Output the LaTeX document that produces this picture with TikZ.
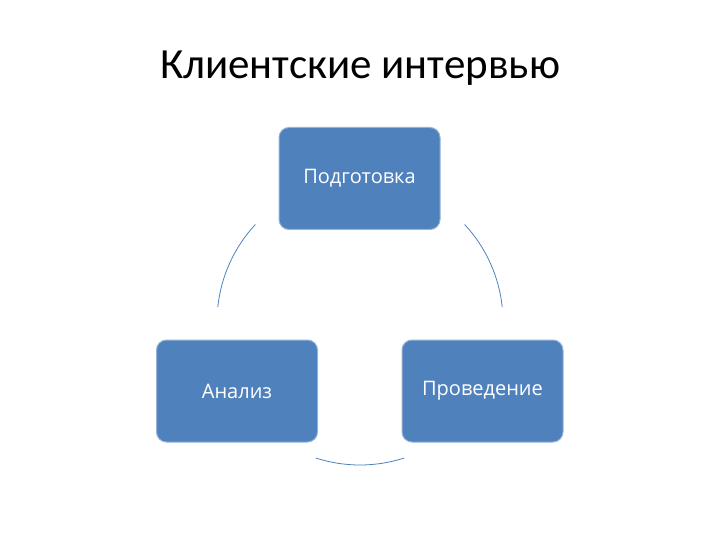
\documentclass[tikz,border=0pt]{standalone}
\usepackage{fontspec}
\setmainfont{Carlito}
\newfontfamily\boxfont{Open Sans}
\definecolor{accent}{HTML}{4F81BD}
\begin{document}
\begin{tikzpicture}[x=1pt,y=-1pt,
  box/.style={draw=accent!60!white,line width=1pt,fill=accent,rounded corners=10pt,minimum width=161pt,minimum height=102pt,text=white,font=\boxfont\fontsize{20}{24}\selectfont},
  arc/.style={draw=accent,line width=0.8pt}]
\useasboundingbox (0,0) rectangle (720,540);
\node (title) at (360,68) {\fontsize{43}{50}\selectfont Клиентские интервью};
\node[box] (prep) at (359.5,178.5) {Подготовка};
\node[box] (anal) at (237,391) {Анализ};
\node[box] (cond) at (482.5,391) {Проведение};
\coordinate (c) at (360,322);
\draw[arc] (c) ++(137:143pt) coordinate (a1) arc[start angle=137,end angle=174,radius=143pt];
\draw[arc] (c) ++(43:143pt) coordinate (a2) arc[start angle=43,end angle=6,radius=143pt];
\draw[arc] (c) ++(252:143pt) coordinate (a3) arc[start angle=252,end angle=288,radius=143pt];
\end{tikzpicture}
\end{document}
